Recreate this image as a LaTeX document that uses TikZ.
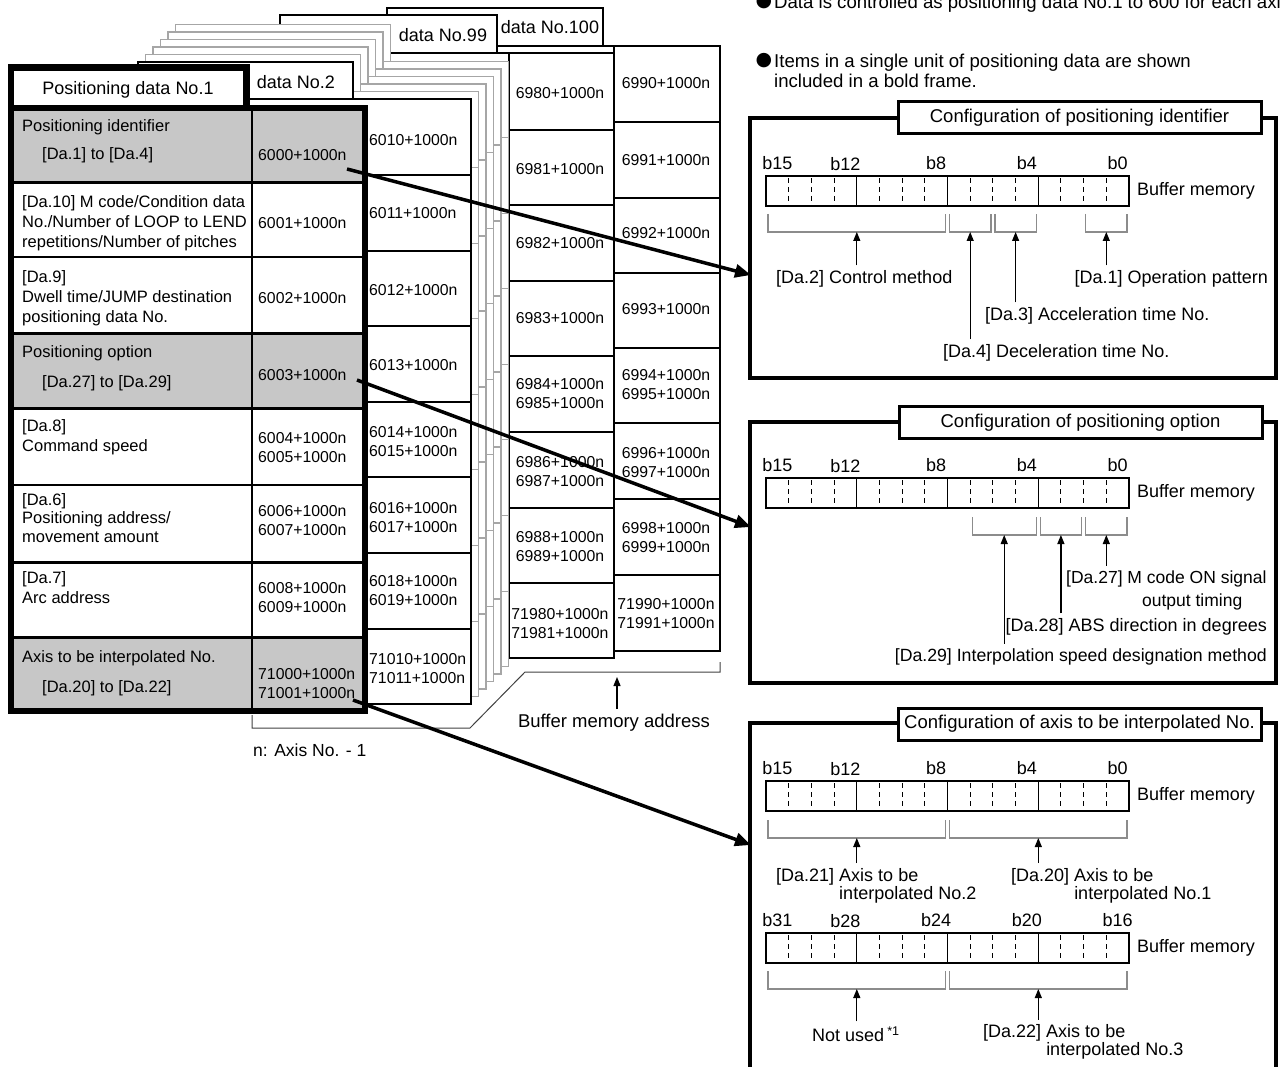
\documentclass[tikz,border=0pt]{standalone}
\usepackage{fontspec}
\setmainfont{Liberation Sans}
\newfontfamily\symfont{DejaVu Sans}
\usetikzlibrary{arrows.meta}

\begin{document}
\begin{tikzpicture}[x=1pt,y=-1pt,
  sheet/.style={draw=black, line width=1.5pt, fill=white},
  graysheet/.style={draw=black!35, line width=1.6pt, fill=white},
  addr/.style={font=\fontsize{15.8}{19}\selectfont, align=left, inner sep=0pt},
  item/.style={font=\fontsize{16.5}{20}\selectfont, align=left, anchor=west, inner sep=0pt},
  tabname/.style={font=\fontsize{18}{21}\selectfont, inner sep=0pt},
  note/.style={font=\fontsize{18.6}{19.5}\selectfont, align=left, anchor=west, inner sep=0pt},
  dot/.style={font=\fontsize{19}{19}\selectfont\symfont, inner sep=0pt},
  cfgframe/.style={draw, line width=3.5pt},
  cfgtitle/.style={draw, line width=3pt, fill=white, minimum width=363pt, minimum height=32pt,
    font=\fontsize{18.5}{21}\selectfont},
  reg/.style={draw, line width=1.3pt},
  regdash/.style={line width=1pt, dash pattern=on 5pt off 4pt, dash phase=-2pt},
  brk/.style={draw=black!45, line width=1.3pt},
  bitno/.style={font=\fontsize{18}{21}\selectfont, inner sep=0pt},
  lbl/.style={font=\fontsize{18}{21}\selectfont, align=left, inner xsep=0pt, inner ysep=5pt},
  uparrow/.style={-{Triangle[length=9pt,width=7pt]}, line width=1.2pt},
  bigarrow/.style={-{Triangle[length=16pt,width=13pt]}, line width=3.5pt}
]
\useasboundingbox (0,0) rectangle (1281,1067);
\clip (0,0) rectangle (1281,1067);

% Notes
\node[dot] (dot1) at (764,2) {●};
\node[note, anchor=base west] (note1) at (774,8.5) {Data is controlled as positioning data No.1 to 600 for each axis.};
\node[dot] (dot2) at (764,61) {●};
\node[note] (note2) at (774,71) {Items in a single unit of positioning data are shown\\included in a bold frame.};

% Sheet No.100
\draw[sheet] (387,8) rectangle (603,46);
\draw[sheet] (387,46) rectangle (720,651);
\draw[sheet] (614,46) -- (614,651);
\foreach \r in {122,198,273,348,423,499,575}
  \draw[sheet] (614,\r) -- (720,\r);
\node[tabname] (tab100) at (550,27) {data No.100};
\foreach \t/\y [count=\i] in {{6990+1000n}/83, {6991+1000n}/160, {6992+1000n}/233, {6993+1000n}/309,
    {6994+1000n\\6995+1000n}/385, {6996+1000n\\6997+1000n}/462.5,
    {6998+1000n\\6999+1000n}/537.5, {71990+1000n\\71991+1000n}/613.5}
  \node[addr] (d100v\i) at (666,\y) {\t};

% Sheet No.99
\draw[sheet] (280,15) rectangle (497,53);
\draw[sheet] (280,53) rectangle (614,658);
\draw[sheet] (509,53) -- (509,658);
\foreach \r in {130,205,281,356,432,508,583}
  \draw[sheet] (509,\r) -- (614,\r);
\node[tabname] (tab99) at (443,35) {data No.99};
\foreach \t/\y [count=\i] in {{6980+1000n}/93, {6981+1000n}/169, {6982+1000n}/243, {6983+1000n}/318,
    {6984+1000n\\6985+1000n}/394, {6986+1000n\\6987+1000n}/472,
    {6988+1000n\\6989+1000n}/547, {71980+1000n\\71981+1000n}/623.5}
  \node[addr] (d99v\i) at (560,\y) {\t};

% Sheets No.3 to No.98
\foreach \k in {5,4,3,2,1} {
  \draw[graysheet] ({138+7.5*\k},{62-7.5*\k}) rectangle ({353+7.5*\k},{99-7.5*\k});
  \draw[graysheet] ({138+7.5*\k},{99-7.5*\k}) rectangle ({471+7.5*\k},{704-7.5*\k});
  \foreach \r in {175,251,326,402,477,553,629}
    \draw[graysheet] ({367+7.5*\k},{\r-7.5*\k}) -- ({471+7.5*\k},{\r-7.5*\k});
}

% Sheet No.2
\draw[sheet] (138,62) rectangle (353,99);
\draw[sheet] (138,99) rectangle (471,704);
\foreach \r in {175,251,326,402,477,553,629}
  \draw[sheet] (367,\r) -- (471,\r);
\node[tabname] (tab2) at (296,82) {data No.2};
\foreach \t/\y [count=\i] in {{6010+1000n}/140, {6011+1000n}/213, {6012+1000n}/290, {6013+1000n}/365,
    {6014+1000n\\6015+1000n}/442, {6016+1000n\\6017+1000n}/517.5,
    {6018+1000n\\6019+1000n}/591, {71010+1000n\\71011+1000n}/669}
  \node[addr, anchor=west] (d2v\i) at (369,\y) {\t};

% Sheet No.1
\draw[line width=6.5pt, fill=white] (11,67.5) rectangle (246.5,108);
\fill[white] (11,108) rectangle (365,711);
\foreach \ya/\yb in {108/183, 333/408, 637/711}
  \fill[black!22] (11,\ya) rectangle (365,\yb);
\draw[line width=1.2pt] (252,108) -- (252,711);
\foreach \y/\w in {183/3, 257/2, 333/3, 408/3, 485/2, 562/3, 637/3}
  \draw[line width=\w pt] (11,\y) -- (365,\y);
\draw[line width=6.5pt] (11,108) rectangle (365,711);
\node[tabname] (tab1) at (128,90) {Positioning data No.1};

\node[item] (pid) at (22,127) {Positioning identifier};
\node[item] (pidr) at (42,155) {[Da.1] to [Da.4]};
\node[item] (da10) at (22,223) {[Da.10] M code/Condition data\\No./Number of LOOP to LEND\\repetitions/Number of pitches};
\node[item] (da9) at (22,298) {[Da.9]\\Dwell time/JUMP destination\\positioning data No.};
\node[item] (popt) at (22,353) {Positioning option};
\node[item] (poptr) at (42,383) {[Da.27] to [Da.29]};
\node[item] (da8) at (22,437) {[Da.8]\\Command speed};
\node[item, font=\fontsize{16.5}{18.5}\selectfont] (da6) at (22,518) {[Da.6]\\Positioning address/\\movement amount};
\node[item] (da7) at (22,587.5) {[Da.7]\\Arc address};
\node[item] (axn) at (22,658) {Axis to be interpolated No.};
\node[item] (axnr) at (42,688) {[Da.20] to [Da.22]};

\foreach \t/\y [count=\i] in {{6000+1000n}/155, {6001+1000n}/223, {6002+1000n}/298, {6003+1000n}/375,
    {6004+1000n\\6005+1000n}/447.5, {6006+1000n\\6007+1000n}/521,
    {6008+1000n\\6009+1000n}/597.5, {71000+1000n\\71001+1000n}/683.5}
  \node[addr, anchor=west] (d1v\i) at (258,\y) {\t};

% Address brackets
\draw[line width=1pt, black!75] (252,715) -- (252,728) -- (470,728) -- (525,672) -- (720,672) -- (720,662);
\node[tabname, font=\fontsize{17.5}{21}\selectfont, anchor=west] (axisno) at (253,750) {n: Axis No. - 1};
\node[tabname, font=\fontsize{18.5}{21}\selectfont, inner ysep=5pt] (bma) at (614,723) {Buffer memory address};
\coordinate (bmatip) at (617,677);
\draw[uparrow] (bma.north -| bmatip) -- (bmatip);

% Configuration frames
\draw[cfgframe] (750,118) rectangle (1276,378);
\draw[cfgframe] (750,422) rectangle (1276,683);
\draw[cfgframe] (750,723) rectangle (1276,1080);
\node[cfgtitle] (cfg1) at (1079.5,117.5) {Configuration of positioning identifier};
\node[cfgtitle] (cfg2) at (1080.5,422.5) {Configuration of positioning option};
\node[cfgtitle] (cfg3) at (1079.5,724) {Configuration of axis to be interpolated No.};

% Registers
\foreach \ry/\hi/\mid/\lo [count=\n] in {176/b15/b12/b8, 478/b15/b12/b8, 781/b15/b12/b8, 933/b31/b28/b24} {
  \draw[reg] (766,\ry) rectangle (1129,{\ry+30});
  \foreach \i in {1,...,15} {
    \pgfmathtruncatemacro\m{mod(\i,4)}
    \ifnum\m=0
      \draw[line width=1.3pt] ({766+22.6875*\i},\ry) -- ++(0,30);
    \else
      \draw[regdash] ({766+22.6875*\i},\ry) -- ++(0,30);
    \fi
  }
  \node[bitno] (r\n b0) at (777.3,{\ry-13}) {\hi};
  \node[bitno] (r\n b1) at (845.4,{\ry-12}) {\mid};
  \node[bitno] (r\n b2) at (936.2,{\ry-13}) {\lo};
  \node[lbl, anchor=west] (bm\n) at (1137,{\ry+15}) {Buffer memory};
}
\foreach \n/\a/\b in {1/b4/b0, 2/b4/b0, 3/b4/b0, 4/b20/b16} {
  \path (r\n b0) ++(249.6,0) node[bitno] (r\n b3) {\a};
  \path (r\n b0) ++(340.4,0) node[bitno] (r\n b4) {\b};
}

% Bit ranges
\foreach \a/\b/\ry in {0/8/214, 8/10/214, 10/12/214, 14/16/214, 9/12/517, 12/14/517, 14/16/517,
    0/8/820, 8/16/820, 0/8/971, 8/16/971}
  \draw[brk] ({766+22.6875*\a+2},\ry) -- ++(0,18) -- ({766+22.6875*\b-2},{\ry+18}) -- ++(0,-18);

% Positioning identifier
\coordinate (p2) at (856.8,232);
\coordinate (p4) at (970.2,232);
\coordinate (p3) at (1015.6,232);
\coordinate (p1) at (1106.3,232);
\node[lbl, anchor=west] (da2) at (776,279) {[Da.2] Control method};
\node[lbl, anchor=east] (da1) at (1268,279) {[Da.1] Operation pattern};
\node[lbl, anchor=west] (da3) at (985,316) {[Da.3] Acceleration time No.};
\node[lbl, anchor=west] (da4) at (943,353) {[Da.4] Deceleration time No.};
\draw[uparrow] (da2.north -| p2) -- (p2);
\draw[uparrow] (da1.north -| p1) -- (p1);
\draw[uparrow] (da3.north -| p3) -- (p3);
\draw[uparrow] (da4.north -| p4) -- (p4);

% Positioning option
\coordinate (p29) at (1004.2,535);
\coordinate (p28) at (1060.9,535);
\coordinate (p27) at (1106.3,535);
\node[lbl, anchor=west, font=\fontsize{17.5}{23}\selectfont] (da27) at (1066,590.5) {[Da.27] M code ON signal\\\hphantom{[Da.27] M}output timing};
\node[lbl, anchor=east] (da28) at (1267,627) {[Da.28] ABS direction in degrees};
\node[lbl, anchor=east, font=\fontsize{17.7}{21}\selectfont] (da29) at (1267,657) {[Da.29] Interpolation speed designation method};
\draw[uparrow] (da27.north -| p27) -- (p27);
\draw[uparrow] (da28.north -| p28) -- (p28);
\draw[uparrow] (da29.north -| p29) -- (p29);

% Axis to be interpolated No.
\coordinate (p21) at (856.8,838);
\coordinate (p20) at (1038.3,838);
\coordinate (pnu) at (856.8,989);
\coordinate (p22) at (1038.3,989);
\node[lbl, anchor=west, font=\fontsize{18}{17.7}\selectfont] (da21) at (776,885.5) {[Da.21] Axis to be\\\hphantom{[Da.21] }interpolated No.2};
\node[lbl, anchor=west, font=\fontsize{18}{17.7}\selectfont] (da20) at (1011,885.5) {[Da.20] Axis to be\\\hphantom{[Da.20] }interpolated No.1};
\node[lbl, anchor=west] (nused) at (812,1034) {Not used\,\textsuperscript{*1}};
\node[lbl, anchor=west, font=\fontsize{18}{17.7}\selectfont] (da22) at (983,1042) {[Da.22] Axis to be\\\hphantom{[Da.22] }interpolated No.3};
\draw[uparrow] (da21.north -| p21) -- (p21);
\draw[uparrow] (da20.north -| p20) -- (p20);
\draw[uparrow] (nused.north -| pnu) -- (pnu);
\draw[uparrow] (da22.north -| p22) -- (p22);

% Arrows to configurations
\coordinate (src1) at (347,169);
\coordinate (dst1) at (751,275);
\coordinate (src2) at (357,380);
\coordinate (dst2) at (751,527);
\coordinate (src3) at (353,700);
\coordinate (dst3) at (751,845);
\draw[bigarrow] (src1) -- (dst1);
\draw[bigarrow] (src2) -- (dst2);
\draw[bigarrow] (src3) -- (dst3);

\end{tikzpicture}
\end{document}
